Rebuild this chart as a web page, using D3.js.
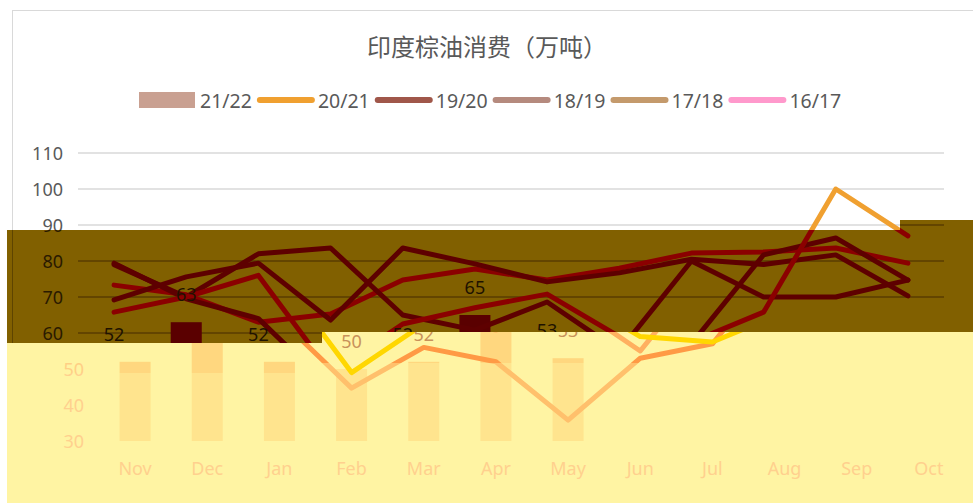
<!DOCTYPE html>
<meta charset="utf-8">
<html>
<head>
    <title>印度棕油消费（万吨）</title>
    <script src="https://cdn.jsdelivr.net/npm/d3@7"></script>
</head>
<style>
    body { margin: 0; background: #fff; }
    svg { display: block; }
    text { font-family: "Noto Sans", "Open Sans", sans-serif; }
    .title { font-family: "Noto Sans CJK SC", sans-serif; }
</style>
<body>
<svg width="973" height="503"></svg>
<script>
    // categories / ticks
    const months = ['Nov','Dec','Jan','Feb','Mar','Apr','May','Jun','Jul','Aug','Sep','Oct']
    const yTicks = [30, 40, 50, 60, 70, 80, 90, 100, 110]

    // 21/22 season so far (bars)
    const bar2122 = [52, 63, 52, 50, 52, 65, 53]

    // older seasons (lines)
    const s2021 = [65.8, 70, 76, 49, 62.5, 67, 70.8, 59, 57.5, 65.8, 100, 87]
    const s1920 = [79.4, 69.5, 64, 44.7, 56, 52, 35.8, 53, 57, 81.7, 86.4, 74.7]
    const s1819 = [69.2, 75.6, 79.4, 63.6, 83.6, 79.2, 74.2, 76.7, 80.5, 79, 81.7, 70.3]
    const s1718 = [79, 70, 82, 83.6, 65, 60.8, 68.6, 55, 80, 70, 70, 74.7]
    const s1617 = [73.3, 70.6, 63, 65.3, 74.7, 77.8, 74.7, 78, 82.2, 82.5, 83.6, 79.4]

    const legendNames = ['21/22', '20/21', '19/20', '18/19', '17/18', '16/17']

    // draw order: oldest first, 20/21 on top
    const lineSeries = [
        {name: '16/17', values: s1617},
        {name: '17/18', values: s1718},
        {name: '18/19', values: s1819},
        {name: '19/20', values: s1920},
        {name: '20/21', values: s2021}
    ]

    const W = 973, H = 503
    const svg = d3.select('svg')

    const x = d3.scaleBand().domain(months).range([78, 944])
    const y = d3.scaleLinear().domain([30, 110]).range([441, 153])
    const cx = m => x(m) + x.bandwidth() / 2
    const barW = x.bandwidth() * 0.43

    // colour sets: normal picture, dark band, and the washed out lower part
    const themes = {
        plain: {bg: '#ffffff', border: '#d9d9d9', grid: '#d9d9d9', axis: '#595959', label: '#404040', bar: '#c9a091',
            lines: {'20/21': '#f0a030', '19/20': '#a0574a', '18/19': '#b58a7e', '17/18': '#c49a6c', '16/17': '#ff99cc'}},
        band: {bg: '#816000', border: '#5e4400', grid: '#5a3c00', axis: '#2a1a00', label: '#1e1200', bar: '#5a0000',
            lines: {'20/21': '#8b0000', '19/20': '#5e0000', '18/19': '#5e0000', '17/18': '#5e0000', '16/17': '#8b0000'}},
        strip: {bg: '#fff4a3', border: '#fff4a3', grid: '#fff4a3', axis: '#ffcf85', label: '#c8925a', bar: '#ffd77f',
            lines: {'20/21': '#ffd700', '19/20': '#ff9a45', '18/19': '#ffad60', '17/18': '#ffb060', '16/17': '#ffb060'}},
        low: {bg: '#fff4a3', border: '#fff4a3', grid: '#fff4a3', axis: '#ffd08e', label: '#ffd08e', bar: '#ffe48e',
            lines: {'20/21': '#ffd700', '19/20': '#ffc06c', '18/19': '#ffc06c', '17/18': '#ffc06c', '16/17': '#ffc06c'}}
    }

    // keep(yc) says whether a text centred at yc can be seen in this part
    function drawChart(g, t, keep, withHeader) {
        // chart frame
        g.append('rect')
            .attr('x', 12.5).attr('y', 10.5)
            .attr('width', W + 40).attr('height', H + 40)
            .attr('fill', t.bg).attr('stroke', t.border)

        if (withHeader) {
            g.append('text')
                .attr('class', 'title')
                .attr('x', 487).attr('y', 45)
                .attr('text-anchor', 'middle').attr('dominant-baseline', 'central')
                .style('font-size', '24px').attr('fill', t.axis)
                .text('印度棕油消费（万吨）')

            // legend
            let lx = 139
            legendNames.forEach((name, i) => {
                if (i === 0) {
                    g.append('rect').attr('x', lx).attr('y', 92).attr('width', 56).attr('height', 16).attr('fill', t.bar)
                } else {
                    g.append('line').attr('x1', lx + 3).attr('x2', lx + 55).attr('y1', 100).attr('y2', 100)
                        .attr('stroke', t.lines[name]).attr('stroke-width', 6).attr('stroke-linecap', 'round')
                }
                let txt = g.append('text')
                    .attr('x', lx + 61).attr('y', 100).attr('dominant-baseline', 'central')
                    .style('font-size', '19.5px').attr('fill', t.axis).text(name)
                lx += 61 + txt.node().getComputedTextLength() + 5
            })
        }

        // grid lines
        g.selectAll('.grid').data(yTicks).enter().append('line')
            .attr('x1', 78).attr('x2', 944)
            .attr('y1', d => y(d)).attr('y2', d => y(d))
            .attr('stroke', t.grid).attr('stroke-width', 1.3)

        // y labels
        g.selectAll('.ylab').data(yTicks.filter(d => keep(y(d)))).enter().append('text')
            .attr('x', 63).attr('y', d => y(d))
            .attr('text-anchor', 'end').attr('dominant-baseline', 'central')
            .style('font-size', '18px').attr('fill', t.axis)
            .text(d => d)

        // 21/22 bars
        g.selectAll('.bar').data(bar2122).enter().append('rect')
            .attr('x', (d, i) => cx(months[i]) - barW / 2)
            .attr('width', barW)
            .attr('y', d => y(d))
            .attr('height', d => y(30) - y(d))
            .attr('fill', t.bar)

        // season lines
        const line = d3.line().x((d, i) => cx(months[i])).y(d => y(d))
        lineSeries.forEach(s => {
            g.append('path')
                .attr('d', line(s.values))
                .attr('fill', 'none')
                .attr('stroke', t.lines[s.name])
                .attr('stroke-width', 5)
                .attr('stroke-linejoin', 'round')
                .attr('stroke-linecap', 'round')
        })

        // bar value labels
        const labs = bar2122.map((v, i) => ({v: v, m: months[i]})).filter(d => keep(y(d.v) - 28))
        g.selectAll('.blab').data(labs).enter().append('text')
            .attr('x', d => cx(d.m))
            .attr('y', d => y(d.v) - 28)
            .attr('text-anchor', 'middle').attr('dominant-baseline', 'central')
            .style('font-size', '18px').attr('fill', t.label)
            .text(d => d.v)

        // x labels
        if (keep(468)) {
            g.selectAll('.xlab').data(months).enter().append('text')
                .attr('x', d => cx(d)).attr('y', 468)
                .attr('text-anchor', 'middle').attr('dominant-baseline', 'central')
                .style('font-size', '18px').attr('fill', t.axis)
                .text(d => d)
        }
    }

    // regions of the picture (dark band, light strip under it, rest below)
    const regions = [
        {id: 'band', theme: themes.band, shift: 0, keep: yc => yc > 218 && yc < 355,
            pts: [[7,230],[900,230],[900,220],[973,220],[973,332],[322,332],[322,343],[7,343]]},
        {id: 'strip', theme: themes.strip, shift: 21, keep: yc => yc > 320 && yc < 385,
            pts: [[7,343],[322,343],[322,332],[973,332],[973,363],[322,363],[322,373],[7,373]]},
        {id: 'low', theme: themes.low, shift: 21, keep: yc => yc > 352,
            pts: [[7,373],[322,373],[322,363],[973,363],[973,503],[7,503]]}
    ]

    const defs = svg.append('defs')
    regions.forEach(r => {
        defs.append('clipPath').attr('id', 'clip-' + r.id)
            .append('polygon').attr('points', r.pts.map(p => p.join(',')).join(' '))
    })

    // normal chart (texts that the parts below cover fully are left out)
    drawChart(svg.append('g'), themes.plain, yc => yc < 240, true)

    // recoloured / shifted parts on top
    regions.forEach(r => {
        let rg = svg.append('g').attr('clip-path', `url(#clip-${r.id})`)
        rg.append('rect').attr('width', W).attr('height', H).attr('fill', r.theme.bg)
        drawChart(rg.append('g').attr('transform', `translate(${r.shift},0)`), r.theme, r.keep, false)
    })
</script>
</body>
</html>
